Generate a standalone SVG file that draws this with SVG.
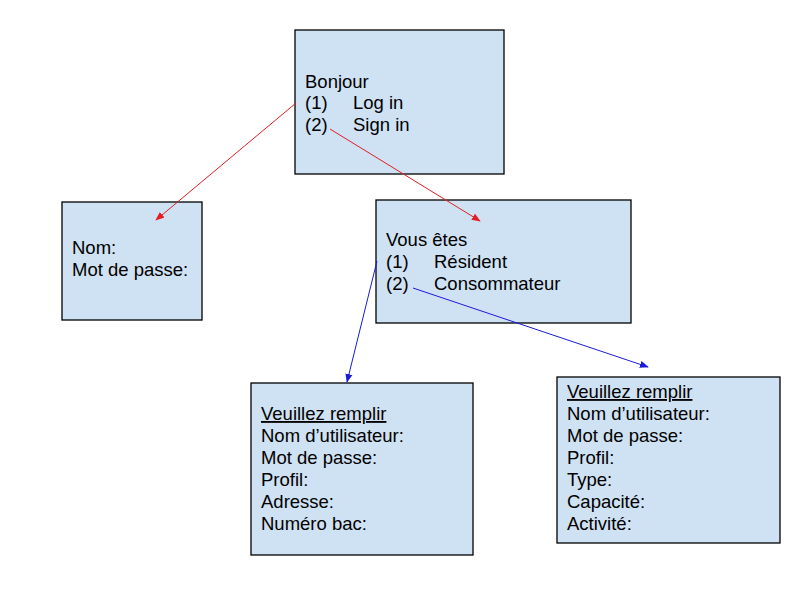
<svg xmlns="http://www.w3.org/2000/svg" width="800" height="600" viewBox="0 0 800 600">
<defs>
<style>
.box{fill:#cfe2f3;stroke:#000;stroke-width:1.3}
text{font-family:"Liberation Sans",Arial,sans-serif;font-size:18.5px;fill:#000}
.red{stroke:#e51c23;stroke-width:1;fill:none}
.blue{stroke:#1a1adb;stroke-width:1;fill:none}
</style>
<marker id="ar" viewBox="0 0 10 10" refX="9" refY="5" markerWidth="9" markerHeight="9" markerUnits="userSpaceOnUse" orient="auto"><path d="M0,1 L10,5 L0,9 z" fill="#e51c23"/></marker>
<marker id="ab" viewBox="0 0 10 10" refX="9" refY="5" markerWidth="9" markerHeight="9" markerUnits="userSpaceOnUse" orient="auto"><path d="M0,1 L10,5 L0,9 z" fill="#1a1adb"/></marker>
</defs>
<rect width="800" height="600" fill="#fff"/>
<g id="n-bonjour">
<rect class="box" x="295" y="30" width="209" height="144"/>
<text x="305" y="88">Bonjour</text>
<text x="305" y="109">(1)</text><text x="353" y="109">Log in</text>
<text x="305" y="131">(2)</text><text x="353" y="131">Sign in</text>
</g>
<g id="n-login">
<rect class="box" x="62" y="202" width="140" height="118"/>
<text x="72" y="254">Nom:</text>
<text x="72" y="276">Mot de passe:</text>
</g>
<g id="n-vous">
<rect class="box" x="376" y="200" width="255" height="123"/>
<text x="386" y="246">Vous êtes</text>
<text x="386" y="268">(1)</text><text x="434" y="268">Résident</text>
<text x="386" y="290">(2)</text><text x="434" y="290">Consommateur</text>
</g>
<g id="n-resident">
<rect class="box" x="251" y="383" width="222" height="172"/>
<text x="261" y="420" text-decoration="underline">Veuillez remplir</text>
<text x="261" y="442">Nom d’utilisateur:</text>
<text x="261" y="464">Mot de passe:</text>
<text x="261" y="486">Profil:</text>
<text x="261" y="508">Adresse:</text>
<text x="261" y="530">Numéro bac:</text>
</g>
<g id="n-consommateur">
<rect class="box" x="557" y="377" width="223" height="166"/>
<text x="567" y="398" text-decoration="underline">Veuillez remplir</text>
<text x="567" y="420">Nom d’utilisateur:</text>
<text x="567" y="442">Mot de passe:</text>
<text x="567" y="464">Profil:</text>
<text x="567" y="486">Type:</text>
<text x="567" y="508">Capacité:</text>
<text x="567" y="530">Activité:</text>
</g>
<g id="connectors">
<line class="red" x1="296" y1="103" x2="156" y2="220" marker-end="url(#ar)"/>
<line class="red" x1="330" y1="129" x2="480" y2="221" marker-end="url(#ar)"/>
<line class="blue" x1="377" y1="261" x2="347" y2="382" marker-end="url(#ab)"/>
<line class="blue" x1="413" y1="288" x2="648" y2="367" marker-end="url(#ab)"/>
</g>
</svg>
